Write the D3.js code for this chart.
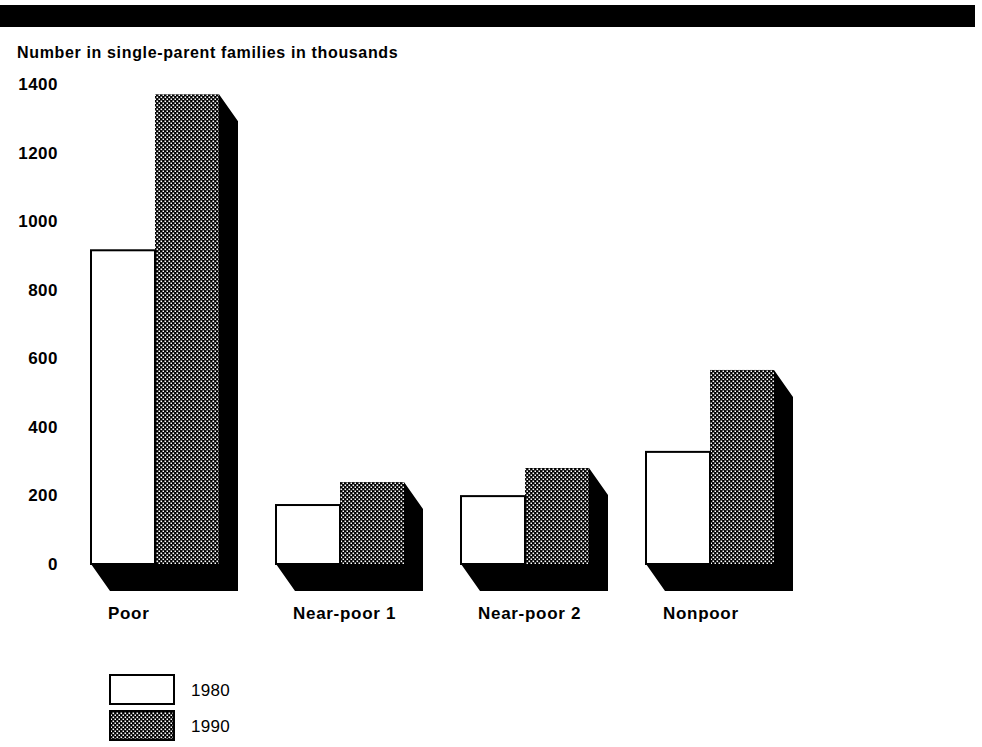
<!DOCTYPE html>
<html>
<head>
<meta charset="utf-8">
<script src="https://cdn.jsdelivr.net/npm/d3@7"></script>
<style>
  html, body { margin: 0; padding: 0; background: #fff; }
  svg { display: block; font-family: "Liberation Sans", Arial, Helvetica, sans-serif; }
</style>
</head>
<body>
<svg id="chart" width="982" height="747"></svg>
<script>
// ---- data ----
const categories = ["Poor", "Near-poor 1", "Near-poor 2", "Nonpoor"];
const years = ["1980", "1990"];
const values1980 = [915, 172, 198, 327];
const values1990 = [1370, 239, 280, 566];
const yTicks = [0, 200, 400, 600, 800, 1000, 1200, 1400];
const subtitle = "Number in single-parent families in thousands";

const svg = d3.select("#chart");

// pattern for 1990 bars
const defs = svg.append("defs");
const pat = defs.append("pattern")
  .attr("id", "stipple").attr("patternUnits", "userSpaceOnUse")
  .attr("width", 4).attr("height", 4);
pat.append("rect").attr("width", 4).attr("height", 4).attr("fill", "#000");
pat.append("rect").attr("x", 0.5).attr("y", 0.5).attr("width", 1.6).attr("height", 1.6).attr("fill", "#fff");
pat.append("rect").attr("x", 2.5).attr("y", 2.5).attr("width", 1.6).attr("height", 1.6).attr("fill", "#fff");

// top black banner
svg.append("rect").attr("x", 0).attr("y", 5).attr("width", 975).attr("height", 22).attr("fill", "#000");

// subtitle
svg.append("text").attr("x", 17).attr("y", 58)
  .attr("font-size", 16).attr("font-weight", "bold").attr("fill", "#000")
  .attr("letter-spacing", 0.65)
  .text(subtitle);

// scales
const y = d3.scaleLinear().domain([0, 1400]).range([564, 84]);
const x = d3.scaleBand().domain(categories).range([91, 91 + 3 * 185 + 128])
  .paddingInner(57 / 185).paddingOuter(0);
const xs = d3.scaleBand().domain(years).range([0, x.bandwidth()]);

// y axis labels (no line), right-aligned
const yAxis = d3.axisLeft(y).tickValues(yTicks).tickSize(0).tickPadding(0).tickFormat(d3.format("d"));
const gy = svg.append("g").attr("transform", "translate(58,0)").call(yAxis);
gy.select(".domain").remove();
gy.selectAll("text").attr("text-anchor", "end").attr("x", 0)
  .attr("font-size", 17).attr("font-weight", "bold").attr("fill", "#000")
  .attr("letter-spacing", 0.5)
  .attr("font-family", "\"Liberation Sans\", Arial, sans-serif");

const data = categories.map((c, i) => ({ cat: c, v: [values1980[i], values1990[i]] }));
const dx = 19, dy = 27;

// shadows (extrusion)
const g = svg.append("g");
data.forEach(d => {
  const xL = x(d.cat);
  const xR = x(d.cat) + x.bandwidth();
  const y0 = y(0);
  const yD = y(d.v[1]);
  const pts = [[xL, y0], [xR, y0], [xR, yD], [xR + dx, yD + dy], [xR + dx, y0 + dy], [xL + dx, y0 + dy]];
  g.append("polygon").attr("points", pts.map(p => p.join(",")).join(" ")).attr("fill", "#000");
});

// bars
data.forEach(d => {
  g.append("rect")
    .attr("x", x(d.cat) + xs("1990")).attr("y", y(d.v[1]))
    .attr("width", xs.bandwidth()).attr("height", y(0) - y(d.v[1]))
    .attr("fill", "url(#stipple)");
  g.append("rect")
    .attr("x", x(d.cat) + xs("1980")).attr("y", y(d.v[0]))
    .attr("width", xs.bandwidth()).attr("height", y(0) - y(d.v[0]))
    .attr("fill", "#fff").attr("stroke", "#000").attr("stroke-width", 2);
});

// category labels
svg.append("g").selectAll("text").data(categories).join("text")
  .attr("x", d => x(d) + 17).attr("y", 619)
  .attr("font-size", 17).attr("font-weight", "bold").attr("fill", "#000")
  .attr("letter-spacing", 0.7)
  .text(d => d);

// legend
const leg = svg.append("g");
years.forEach((yr, i) => {
  const top = 675 + i * 36;
  leg.append("rect").attr("x", 110).attr("y", top).attr("width", 64).attr("height", 29)
    .attr("fill", i === 0 ? "#fff" : "url(#stipple)")
    .attr("stroke", "#000").attr("stroke-width", 2);
  leg.append("text").attr("x", 191).attr("y", top + 15).attr("dy", "0.35em")
    .attr("font-size", 17).attr("letter-spacing", 0.3).attr("fill", "#000").text(yr);
});
</script>
</body>
</html>
